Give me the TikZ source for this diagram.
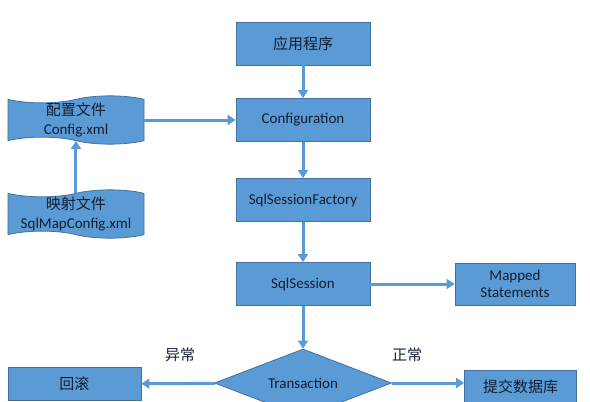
\documentclass[tikz,border=0pt]{standalone}
\usepackage{fontspec}
\setmainfont{Carlito}
\newfontfamily\cjk{Noto Sans CJK SC}
\usetikzlibrary{shapes.geometric,shapes.symbols,arrows.meta}
\definecolor{boxblue}{RGB}{91,155,213}
\definecolor{boxline}{RGB}{65,113,156}
\definecolor{txt}{RGB}{20,30,50}
\tikzset{
  box/.style={draw=boxline,fill=boxblue,line width=0.8pt,minimum width=134pt,minimum height=43pt,
    inner sep=0pt,text=txt,font=\fontsize{15}{17}\selectfont,align=center},
  doc/.style={tape,tape bend top=in and out,tape bend bottom=out and in,tape bend height=7pt,
    draw=boxline,fill=boxblue,line width=0.8pt,minimum width=136pt,minimum height=44pt,
    inner sep=0pt,text=txt,font=\fontsize{15}{19}\selectfont,align=center},
  flow/.style={-{Triangle[width=10pt,length=8pt]},draw=boxblue,line width=3pt},
  lbl/.style={text=txt,font=\cjk\fontsize{15}{17}\selectfont}
}
\begin{document}
\begin{tikzpicture}[x=1pt,y=-1pt]
\useasboundingbox (0,0) rectangle (590,402);
\clip (0,0) rectangle (590,402);
% main chain
\node[box] (app) at (303,43.5) {\cjk 应用程序};
\node[box] (conf) at (303,120) {Configuration};
\node[box] (fact) at (303,200) {SqlSessionFactory};
\node[box] (sess) at (303,284) {SqlSession};
\node[box,minimum width=120pt,minimum height=42pt] (mapped) at (515,284) {Mapped\\Statements};
\node[box,diamond,aspect=2.6,minimum width=177pt,minimum height=68pt] (trans) at (303,383) {Transaction};
\node[box,minimum width=133pt,minimum height=33pt] (roll) at (74.5,384) {\cjk 回滚};
\node[box,minimum width=112pt,minimum height=33pt] (commit) at (520.5,387) {\cjk 提交数据库};
% config files
\node[doc] (cfg) at (76,120) {{\cjk 配置文件}\\Config.xml};
\node[doc] (map) at (76,214) {{\cjk 映射文件}\\SqlMapConfig.xml};
% labels
\node[lbl] (err) at (180,355) {异常};
\node[lbl] (ok) at (407,355) {正常};
% connectors
\draw[flow] (app) -- (conf);
\draw[flow] (conf) -- (fact);
\draw[flow] (fact) -- (sess);
\draw[flow] (sess) -- (mapped);
\draw[flow] (sess) -- (trans);
\draw[flow] (trans) -- (roll);
\draw[flow] (trans) -- (commit.west |- trans);
\draw[flow] (cfg.east) -- (cfg.east -| conf.west);
\draw[flow] (map) -- (cfg);
\end{tikzpicture}
\end{document}
